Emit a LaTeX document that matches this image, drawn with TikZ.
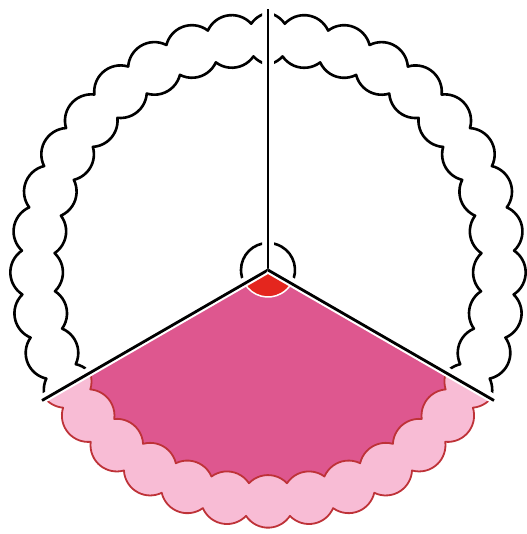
\documentclass[tikz,border=0pt]{standalone}
\usepackage{tikz}
\usetikzlibrary{calc}

\definecolor{piefill}{RGB}{222,87,143}
\definecolor{crustfill}{RGB}{248,188,213}
\definecolor{crustline}{RGB}{190,50,56}
\definecolor{tipfill}{RGB}{228,38,30}

% scalloped crust edges of one slice, #1 = middle angle of the slice
\newcommand{\crustout}[1]{%
  ($(#1-61.2:231.4pt)+(#1-117.75:26.3pt)$)
  \foreach \k in {-6,...,6} {
    arc[start angle=#1+(\k)*10.2-56.55, end angle=#1+(\k)*10.2+56.55, radius=26.3pt]
  }}
\newcommand{\crustin}[1]{%
  ($(#1-61.2:231.4pt)+(#1+165.15:26.3pt)$)
  \foreach \k in {-6,...,6} {
    arc[start angle=#1+(\k)*10.2+226.35, end angle=#1+(\k)*10.2+133.65, radius=26.3pt]
  }}

\begin{document}
\begin{tikzpicture}[
  x=1pt, y=1pt,
  rim/.style={line width=2.6pt, line join=round},
  redrim/.style={draw=crustline, line width=1.8pt, line join=round},
  cut/.style={line width=2.8pt, preaction={draw=white, line width=7pt}}
]
  \useasboundingbox (-268pt,-264pt) rectangle (258pt,270pt);
  \coordinate (hub) at (0,0);
  \foreach \dir [count=\n] in {90,210,330}
    \coordinate (end\n) at (\dir:261pt);

  % coloured slice
  \begin{scope}
    \clip (hub) -- (210:400pt) -- (270:560pt) -- (330:400pt) -- cycle;
    \fill[crustfill] \crustout{270} -- (hub) -- cycle;
    \fill[piefill] \crustin{270} -- (hub) -- cycle;
    \draw[redrim] \crustout{270};
    \draw[redrim] \crustin{270};
  \end{scope}
  \filldraw[fill=tipfill, draw=white, line width=1.5pt]
    (hub) -- (210:27pt) arc[start angle=210, end angle=330, radius=27pt] -- cycle;

  % empty slices
  \foreach \slice in {150,30} {
    \begin{scope}
      \clip (\slice:6.93pt) -- +(\slice-60:400pt) -- +(\slice:560pt) -- +(\slice+60:400pt) -- cycle;
      \draw[rim] \crustout{\slice};
      \draw[rim] \crustin{\slice};
      \draw[rim] (\slice-60:27pt) arc[start angle=\slice-60, end angle=\slice+60, radius=27pt];
    \end{scope}
  }

  \draw[cut] (hub) -- (end1);
  \draw[cut] (hub) -- (end2);
  \draw[cut] (hub) -- (end3);
\end{tikzpicture}
\end{document}
